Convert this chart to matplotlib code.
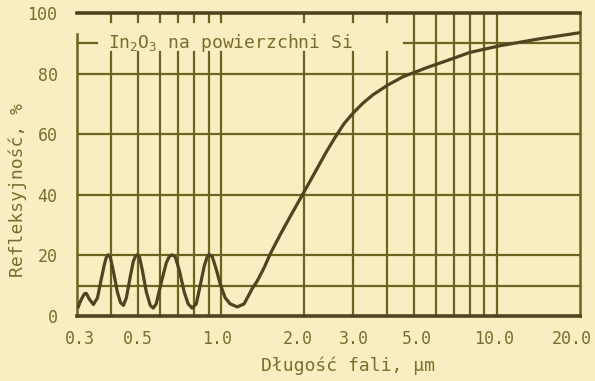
import numpy as np
import matplotlib
matplotlib.use("Agg")
import matplotlib.pyplot as plt

# wavelength (um) and reflectance (%)
wavelength = [0.303, 0.311, 0.319, 0.324, 0.333, 0.344, 0.356, 0.367, 0.377,
              0.383, 0.390, 0.396, 0.406, 0.420, 0.431, 0.442, 0.453, 0.468,
              0.480, 0.488, 0.496, 0.505, 0.518, 0.535, 0.553, 0.567, 0.581,
              0.606, 0.632, 0.648, 0.664, 0.681, 0.705, 0.734, 0.759, 0.785,
              0.812, 0.839, 0.868, 0.890, 0.905, 0.928, 0.959, 0.992, 1.034,
              1.078, 1.143, 1.211, 1.252, 1.295, 1.350, 1.432, 1.506, 1.636,
              1.778, 1.965, 2.10, 2.228, 2.40, 2.59, 2.79, 3.01, 3.27, 3.55,
              4.03, 4.57, 5.58, 6.93, 7.98, 10.25, 14.3, 20.0]
reflectance = [3.0, 5.5, 7.3, 7.5, 5.5, 3.8, 6.0, 12.0, 17.0,
               19.3, 20.2, 19.5, 15.0, 8.0, 4.5, 3.5, 6.0, 13.0,
               18.0, 19.6, 20.2, 19.6, 15.0, 8.0, 3.5, 2.6, 4.0,
               11.0, 17.5, 19.6, 20.2, 19.6, 15.0, 8.0, 4.0, 2.6,
               4.0, 10.0, 16.5, 19.6, 20.3, 19.6, 15.5, 10.5, 6.0,
               4.0, 3.0, 4.0, 6.5, 9.0, 11.5, 16.0, 20.5, 26.8,
               32.8, 39.8, 44.5, 48.7, 54.0, 59.0, 63.5, 67.0, 70.3, 73.0,
               76.3, 79.0, 82.0, 85.0, 87.0, 89.2, 91.5, 93.5]

x_ticks = [0.3, 0.5, 1.0, 2.0, 3.0, 5.0, 10.0, 20.0]
x_tick_labels = ["0.3", "0.5", "1.0", "2.0", "3.0", "5.0", "10.0", "20.0"]
y_ticks = [0, 20, 40, 60, 80, 100]

# grid lines as drawn on the original chart
short_vlines = [0.4, 0.5, 0.6, 0.7, 0.8, 0.9, 1.0, 2.0, 3.0, 4.0]
full_vlines = [5.0, 6.0, 7.0, 8.0, 9.0, 10.0]
hlines = [10, 20, 40, 60, 80]

bg = "#f8eec2"
grid_col = "#6e6220"
text_col = "#7a6d2c"
curve_col = "#4e4420"

plt.rcParams["font.family"] = ["DejaVu Sans Mono"]
plt.rcParams["mathtext.fontset"] = "custom"
plt.rcParams["mathtext.rm"] = "DejaVu Sans Mono"

fig = plt.figure(figsize=(5.95, 3.81), dpi=100)
fig.patch.set_facecolor(bg)
ax = fig.add_axes([77 / 595, 65 / 381, 503 / 595, 303 / 381])
ax.set_facecolor(bg)
ax.set_xscale("log")
ax.set_xlim(0.3, 20)
ax.set_ylim(0, 100)

for h in hlines:
    ax.axhline(h, color=grid_col, lw=1.6, zorder=1)
ax.plot([4.6, 20], [90, 90], color=grid_col, lw=1.6, zorder=1)
ax.plot([0.3, 0.355], [90, 90], color=grid_col, lw=1.6, zorder=1)
for v in short_vlines:
    ax.axvline(v, 0, 0.87, color=grid_col, lw=1.6, zorder=1)
    ax.axvline(v, 0.97, 1, color=grid_col, lw=1.6, zorder=1)
for v in full_vlines:
    ax.axvline(v, color=grid_col, lw=1.6, zorder=1)

ax.plot(wavelength, reflectance, color=curve_col, lw=2.3, zorder=3,
        solid_joinstyle="round")

for side in ["top", "bottom"]:
    ax.spines[side].set_linewidth(2.6)
    ax.spines[side].set_color(curve_col)
for side in ["left", "right"]:
    ax.spines[side].set_linewidth(1.8)
    ax.spines[side].set_color(grid_col)
ax.spines["left"].set_bounds(0, 93)

ax.text(0.39, 90, "In$_2$O$_3$ na powierzchni Si", color=text_col,
        fontsize=13, va="center", ha="left", zorder=4)

ax.set_xticks(x_ticks)
ax.set_xticklabels([])
ax.xaxis.set_minor_locator(matplotlib.ticker.NullLocator())
offsets = [3, 0, -4, -6, 1, 3, -3, -8]
for v, lab, dx in zip(x_ticks, x_tick_labels, offsets):
    ax.annotate(lab, xy=(v, 0), xycoords=("data", "axes fraction"),
                xytext=(dx, -14), textcoords="offset pixels",
                ha="center", va="top", fontsize=12, color=text_col)

ax.set_yticks(y_ticks)
ax.set_yticklabels([str(t) for t in y_ticks], fontsize=12, color=text_col)
ax.tick_params(axis="both", length=0)
ax.tick_params(axis="y", pad=14)

fig.text(348 / 595, 1 - 366 / 381, "Długość fali, μm", ha="center",
         va="center", fontsize=13, color=text_col)
fig.text(18 / 595, 1 - 190 / 381, "Refleksyjność, %", ha="center",
         va="center", rotation=90, fontsize=13, color=text_col)

fig.savefig("out.png", dpi=100, facecolor=bg)
